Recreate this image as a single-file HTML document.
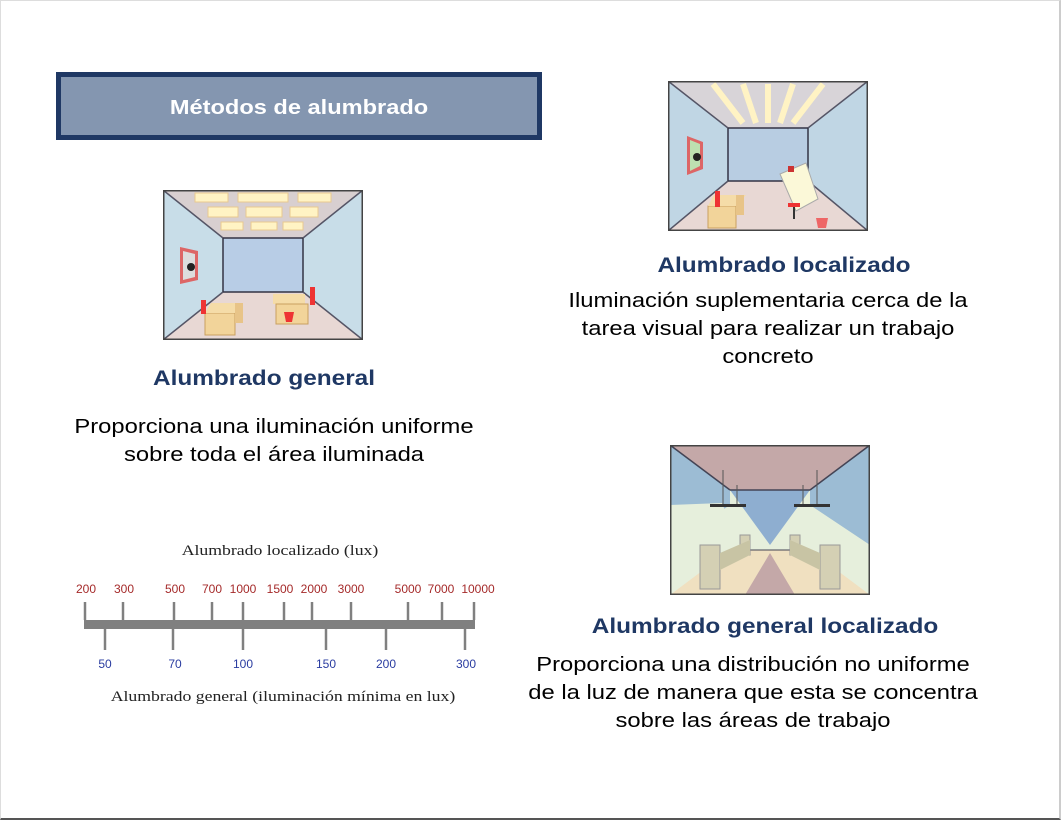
<!DOCTYPE html>
<html><head><meta charset="utf-8"><style>
body{margin:0;width:1062px;height:822px;background:#fff;position:relative;overflow:hidden;font-family:"Liberation Sans",sans-serif}
.frame{position:absolute;left:0;top:0;width:1058px;height:817px;border-right:2px solid #ccc;border-bottom:2px solid #555;border-top:1px solid #ddd;border-left:1px solid #ddd}
.t{position:absolute;white-space:nowrap;transform:translateX(-50%) scaleX(1.16);text-align:center}
.h{font-weight:bold;color:#1f3864;font-size:21px}
.b{color:#000;font-size:20.5px;line-height:28px}
.s{font-family:"Liberation Serif",serif;font-size:15px;color:#222;transform:translateX(-50%) scaleX(1.18)}
.r{position:absolute;font-size:12px;color:#a52a2a;transform:translateX(-50%)}
.bl{position:absolute;font-size:12px;color:#2a3ca0;transform:translateX(-50%)}
</style></head><body>
<div class="frame"></div>
<div style="position:absolute;left:56px;top:72px;width:476px;height:58px;border:5px solid #1f3864;background:#8496b0"></div>
<div class="t" style="left:299px;top:97px;color:#fff;font-weight:bold;font-size:20px;transform:translateX(-50%) scaleX(1.18)">Métodos de alumbrado</div>

<!-- room 1 -->
<svg style="position:absolute;left:163px;top:190px" width="200" height="150" viewBox="0 0 200 150">
<rect width="200" height="150" fill="#c8dde8"/>
<polygon points="0,0 200,0 140,48 60,48" fill="#d8cfd0"/>
<polygon points="0,150 200,150 140,102 60,102" fill="#e8d8d4"/>
<rect x="60" y="48" width="80" height="54" fill="#b8cde6" stroke="#334" stroke-width="1.5"/>
<g fill="#fff3c4" stroke="#e8c890"><rect x="32" y="3" width="33" height="9"/><rect x="75" y="3" width="50" height="9"/><rect x="135" y="3" width="33" height="9"/><rect x="45" y="17" width="30" height="10"/><rect x="83" y="17" width="36" height="10"/><rect x="127" y="17" width="28" height="10"/><rect x="58" y="32" width="22" height="8"/><rect x="88" y="32" width="26" height="8"/><rect x="120" y="32" width="20" height="8"/></g>
<line x1="0" y1="0" x2="60" y2="48" stroke="#556" stroke-width="1.5"/><line x1="200" y1="0" x2="140" y2="48" stroke="#556" stroke-width="1.5"/>
<line x1="0" y1="150" x2="60" y2="102" stroke="#556" stroke-width="1.5"/><line x1="200" y1="150" x2="140" y2="102" stroke="#556" stroke-width="1.5"/>
<rect x="0.75" y="0.75" width="198.5" height="148.5" fill="none" stroke="#444" stroke-width="1.5"/>
<polygon points="17,57 35,61 35,90 17,94" fill="#d66" /><polygon points="20,61 32,64 32,87 20,90" fill="#ddd"/><circle cx="28" cy="77" r="4" fill="#222"/>
<rect x="42" y="123" width="30" height="22" fill="#f2d49a" stroke="#c9a060"/><polygon points="42,123 48,113 80,113 72,123" fill="#f5dca8"/><rect x="72" y="113" width="8" height="20" fill="#e8c488"/>
<rect x="38" y="110" width="5" height="14" fill="#e33"/>
<rect x="110" y="104" width="32" height="10" fill="#f5dca8"/><rect x="113" y="114" width="32" height="20" fill="#f2d49a" stroke="#c9a060"/><path d="M121,122 h10 l-2,10 h-6 z" fill="#e33"/><rect x="147" y="97" width="5" height="18" fill="#e33"/>
</svg>

<!-- room 2 -->
<svg style="position:absolute;left:668px;top:81px" width="200" height="150" viewBox="0 0 200 150">
<rect width="200" height="150" fill="#c0d6e4"/>
<polygon points="0,0 200,0 140,47 60,47" fill="#d8d4d8"/>
<polygon points="0,150 200,150 140,100 60,100" fill="#e8d8d4"/>
<rect x="60" y="47" width="80" height="53" fill="#b8cde2" stroke="#334" stroke-width="1.5"/>
<g stroke="#fff3c4" stroke-width="6"><line x1="45" y1="3" x2="75" y2="42"/><line x1="75" y1="3" x2="88" y2="42"/><line x1="100" y1="3" x2="100" y2="42"/><line x1="125" y1="3" x2="112" y2="42"/><line x1="155" y1="3" x2="125" y2="42"/></g>
<line x1="0" y1="0" x2="60" y2="47" stroke="#556" stroke-width="1.5"/><line x1="200" y1="0" x2="140" y2="47" stroke="#556" stroke-width="1.5"/>
<line x1="0" y1="150" x2="60" y2="100" stroke="#556" stroke-width="1.5"/><line x1="200" y1="150" x2="140" y2="100" stroke="#556" stroke-width="1.5"/>
<rect x="0.75" y="0.75" width="198.5" height="148.5" fill="none" stroke="#444" stroke-width="1.5"/>
<polygon points="19,55 35,61 35,88 19,94" fill="#d66"/><polygon points="22,59 32,63 32,85 22,90" fill="#bde0b0"/><circle cx="29" cy="76" r="4" fill="#222"/>
<rect x="40" y="125" width="28" height="22" fill="#f2d49a" stroke="#c9a060"/><polygon points="40,125 46,114 78,114 68,125" fill="#f5dca8"/><rect x="68" y="114" width="8" height="20" fill="#e8c488"/><rect x="47" y="110" width="5" height="16" fill="#e33"/>
<polygon points="112,93 138,82 150,118 128,130" fill="#fbf8d8" stroke="#aaa"/>
<rect x="120" y="85" width="6" height="6" fill="#c33"/>
<rect x="120" y="122" width="12" height="4" fill="#e33"/><line x1="126" y1="126" x2="126" y2="138" stroke="#333" stroke-width="2"/>
<path d="M148,137 h12 l-2,10 h-8z" fill="#e66"/>
</svg>

<!-- room 3 -->
<svg style="position:absolute;left:670px;top:445px" width="200" height="150" viewBox="0 0 200 150">
<rect width="200" height="150" fill="#e6efdc"/>
<polygon points="0,0 200,0 140,45 60,45" fill="#c4a8a8"/>
<polygon points="0,0 60,45 60,60 0,100" fill="#9cbcd4"/>
<polygon points="200,0 140,45 140,60 200,100" fill="#9cbcd4"/>
<polygon points="60,45 140,45 100,100" fill="#8eaed0"/>
<polygon points="0,150 200,150 140,105 60,105" fill="#f0e0c0"/>
<polygon points="100,108 75,150 125,150" fill="#c4a8a8"/>
<polygon points="0,60 52,58 65,90 0,130" fill="#e6efdc"/>
<line x1="0" y1="0" x2="60" y2="45" stroke="#445" stroke-width="1.5"/><line x1="200" y1="0" x2="140" y2="45" stroke="#445" stroke-width="1.5"/>
<line x1="60" y1="45" x2="140" y2="45" stroke="#445" stroke-width="1.5"/>
<line x1="60" y1="105" x2="140" y2="105" stroke="#445" stroke-width="1"/>
<line x1="53" y1="25" x2="53" y2="60" stroke="#555"/><line x1="67" y1="40" x2="67" y2="60" stroke="#555"/><line x1="147" y1="25" x2="147" y2="60" stroke="#555"/><line x1="133" y1="40" x2="133" y2="60" stroke="#555"/>
<rect x="40" y="59" width="36" height="3" fill="#333"/><rect x="124" y="59" width="36" height="3" fill="#333"/>
<rect x="30" y="100" width="20" height="44" fill="#d4d0b4" stroke="#999"/><rect x="70" y="90" width="10" height="20" fill="#d4d0b4" stroke="#999"/><polygon points="50,108 80,95 80,110 50,125" fill="#c8c4a4"/>
<rect x="150" y="100" width="20" height="44" fill="#d4d0b4" stroke="#999"/><rect x="120" y="90" width="10" height="20" fill="#d4d0b4" stroke="#999"/><polygon points="150,108 120,95 120,110 150,125" fill="#c8c4a4"/>
<rect x="0.75" y="0.75" width="198.5" height="148.5" fill="none" stroke="#444" stroke-width="1.5"/>
</svg>

<div class="t h" style="left:264px;top:367px">Alumbrado general</div>
<div class="t b" style="left:274px;top:413px">Proporciona una iluminación uniforme<br>sobre toda el área iluminada</div>
<div class="t h" style="left:784px;top:254px">Alumbrado localizado</div>
<div class="t b" style="left:768px;top:287px">Iluminación suplementaria cerca de la<br>tarea visual para realizar un trabajo<br>concreto</div>
<div class="t h" style="left:765px;top:615px">Alumbrado general localizado</div>
<div class="t b" style="left:753px;top:651px">Proporciona una distribución no uniforme<br>de la luz de manera que esta se concentra<br>sobre las áreas de trabajo</div>

<div class="t s" style="left:280px;top:543px">Alumbrado localizado (lux)</div>
<div class="t s" style="left:283px;top:689px">Alumbrado general (iluminación mínima en lux)</div>
<svg style="position:absolute;left:0;top:0" width="1062" height="822">
<rect x="84" y="620" width="391" height="9" fill="#808080"/>
<g stroke="#808080" stroke-width="2.5">
<line x1="85" y1="602" x2="85" y2="620"/><line x1="123" y1="602" x2="123" y2="620"/><line x1="174" y1="602" x2="174" y2="620"/><line x1="212" y1="602" x2="212" y2="620"/><line x1="243" y1="602" x2="243" y2="620"/><line x1="284" y1="602" x2="284" y2="620"/><line x1="312" y1="602" x2="312" y2="620"/><line x1="351" y1="602" x2="351" y2="620"/><line x1="408" y1="602" x2="408" y2="620"/><line x1="442" y1="602" x2="442" y2="620"/><line x1="474" y1="602" x2="474" y2="620"/>
<line x1="105" y1="629" x2="105" y2="650"/><line x1="173" y1="629" x2="173" y2="650"/><line x1="243" y1="629" x2="243" y2="650"/><line x1="326" y1="629" x2="326" y2="650"/><line x1="386" y1="629" x2="386" y2="650"/><line x1="465" y1="629" x2="465" y2="650"/>
</g></svg>
<div class="r" style="left:86px;top:582px">200</div><div class="r" style="left:124px;top:582px">300</div><div class="r" style="left:175px;top:582px">500</div><div class="r" style="left:212px;top:582px">700</div><div class="r" style="left:243px;top:582px">1000</div><div class="r" style="left:280px;top:582px">1500</div><div class="r" style="left:314px;top:582px">2000</div><div class="r" style="left:351px;top:582px">3000</div><div class="r" style="left:408px;top:582px">5000</div><div class="r" style="left:441px;top:582px">7000</div><div class="r" style="left:478px;top:582px">10000</div>
<div class="bl" style="left:105px;top:657px">50</div><div class="bl" style="left:175px;top:657px">70</div><div class="bl" style="left:243px;top:657px">100</div><div class="bl" style="left:326px;top:657px">150</div><div class="bl" style="left:386px;top:657px">200</div><div class="bl" style="left:466px;top:657px">300</div>
</body></html>
